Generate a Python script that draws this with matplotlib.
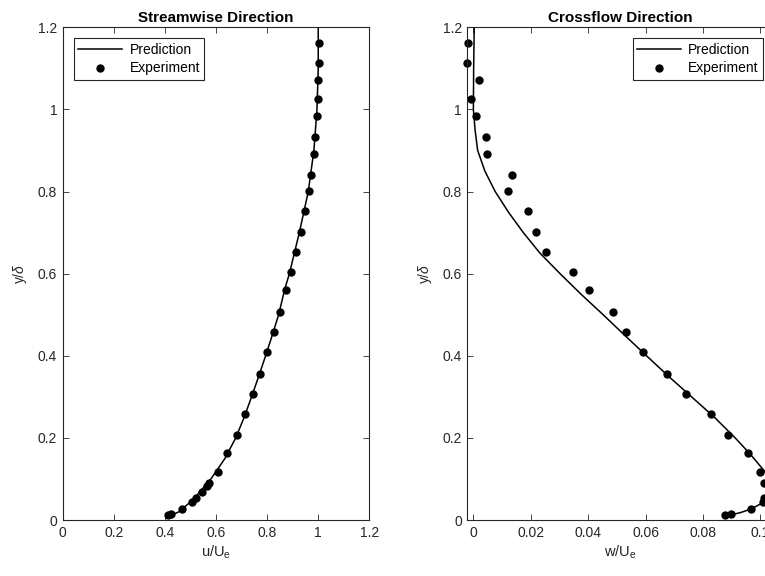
import numpy as np
import matplotlib
matplotlib.use("Agg")
import matplotlib.pyplot as plt

plt.rcParams['font.family'] = ['Liberation Sans', 'DejaVu Sans']
plt.rcParams['mathtext.fontset'] = 'custom'
plt.rcParams['mathtext.rm'] = 'Liberation Sans'
plt.rcParams['mathtext.it'] = 'Liberation Sans:italic'

# ---------- Data ----------
y_exp = [1.161, 1.114, 1.072, 1.025, 0.983, 0.934, 0.892, 0.841, 0.801, 0.752,
         0.701, 0.652, 0.603, 0.560, 0.507, 0.457, 0.408, 0.356, 0.308, 0.258,
         0.207, 0.162, 0.118, 0.091, 0.083, 0.068, 0.054, 0.044, 0.028, 0.014,
         0.011]
u_exp = [1.002, 1.002, 1.000, 0.998, 0.995, 0.989, 0.982, 0.973, 0.963, 0.948,
         0.931, 0.912, 0.894, 0.873, 0.850, 0.826, 0.798, 0.772, 0.745, 0.714,
         0.681, 0.644, 0.608, 0.573, 0.564, 0.545, 0.523, 0.505, 0.467, 0.423,
         0.411]
w_exp = [-0.0017, -0.0022, 0.0019, -0.0008, 0.0010, 0.0044, 0.0047, 0.0136, 0.0121, 0.0192,
         0.0217, 0.0253, 0.0347, 0.0402, 0.0487, 0.0532, 0.0592, 0.0675, 0.0742, 0.0827,
         0.0887, 0.0957, 0.0998, 0.1013, 0.1035, 0.1030, 0.1012, 0.1010, 0.0968, 0.0898,
         0.0878]

y_pred_u = [0.008, 0.02, 0.05, 0.1, 0.15, 0.2, 0.25, 0.3, 0.35, 0.4, 0.45, 0.5,
            0.56, 0.6, 0.7, 0.8, 0.9, 1.0, 1.1, 1.2]
u_pred = [0.411, 0.455, 0.511, 0.580, 0.635, 0.677, 0.710, 0.739, 0.767, 0.794,
          0.820, 0.845, 0.868, 0.887, 0.926, 0.961, 0.983, 0.995, 1.0, 1.0]

y_pred_w = [1.2, 1.1, 1.0, 0.95, 0.9, 0.85, 0.8, 0.75, 0.7, 0.65, 0.6, 0.55, 0.5,
            0.45, 0.4, 0.35, 0.3, 0.25, 0.2, 0.16, 0.12, 0.09, 0.065, 0.045, 0.027,
            0.018, 0.012, 0.008]
w_pred = [0.0003, 0.0001, 0.0, 0.0006, 0.0015, 0.0040, 0.0076, 0.0122, 0.0174, 0.0232,
          0.0302, 0.0375, 0.0452, 0.0527, 0.0603, 0.0680, 0.0760, 0.0840, 0.0912, 0.0965,
          0.1013, 0.1038, 0.1038, 0.1016, 0.0968, 0.0930, 0.0895, 0.0880]

# ---------- Plot ----------
grey = '#262626'
fig = plt.figure(figsize=(7.65, 5.76), dpi=100)
ax1 = fig.add_axes([0.082, 0.0972, 0.4008, 0.8554])
ax2 = fig.add_axes([0.6109, 0.0972, 0.4008, 0.8554])


def style(ax):
    ax.tick_params(direction='in', length=4, width=0.6, colors=grey,
                   labelsize=10, top=True, right=True, pad=4)
    for s in ax.spines.values():
        s.set_color(grey)
        s.set_linewidth(0.8)
    ax.set_ylim(0, 1.2)
    ax.set_yticks(np.arange(0, 1.21, 0.2))
    ax.set_yticklabels(['0', '0.2', '0.4', '0.6', '0.8', '1', '1.2'])
    ax.set_ylabel(r'y/$\delta$', fontsize=10, color=grey, labelpad=6)


# left: streamwise
ax1.plot(u_pred, y_pred_u, color='black', lw=1.1, label='Prediction')
ax1.plot(u_exp, y_exp, 'o', color='black', ms=5, clip_on=False, label='Experiment')
style(ax1)
ax1.set_xlim(0, 1.2)
ax1.set_xticks(np.arange(0, 1.21, 0.2))
ax1.set_xticklabels(['0', '0.2', '0.4', '0.6', '0.8', '1', '1.2'])
ax1.set_xlabel(r'u/U$_\mathrm{e}$', fontsize=10.5, color=grey, labelpad=3)
ax1.set_title('Streamwise Direction', fontsize=11, fontweight='bold', pad=4)

# right: crossflow
ax2.plot(w_pred, y_pred_w, color='black', lw=1.1, label='Prediction')
ax2.plot(w_exp, y_exp, 'o', color='black', ms=5, clip_on=False, label='Experiment')
style(ax2)
ax2.set_xlim(-0.0021, 0.1047)
ax2.set_xticks(np.arange(0, 0.101, 0.02))
ax2.set_xticklabels(['0', '0.02', '0.04', '0.06', '0.08', '0.1'])
ax2.set_xlabel(r'w/U$_\mathrm{e}$', fontsize=10.5, color=grey, labelpad=3)
ax2.set_title('Crossflow Direction', fontsize=11, fontweight='bold', pad=4)

for ax, loc in [(ax1, 'upper left'), (ax2, 'upper right')]:
    leg = ax.legend(loc=loc, fontsize=10, frameon=True, fancybox=False,
                    edgecolor=grey, framealpha=1, handlelength=3.2,
                    borderaxespad=0.8, borderpad=0.3, labelspacing=0.35,
                    handletextpad=0.5)
    leg.get_frame().set_linewidth(0.8)

fig.savefig('out.png', dpi=100)
